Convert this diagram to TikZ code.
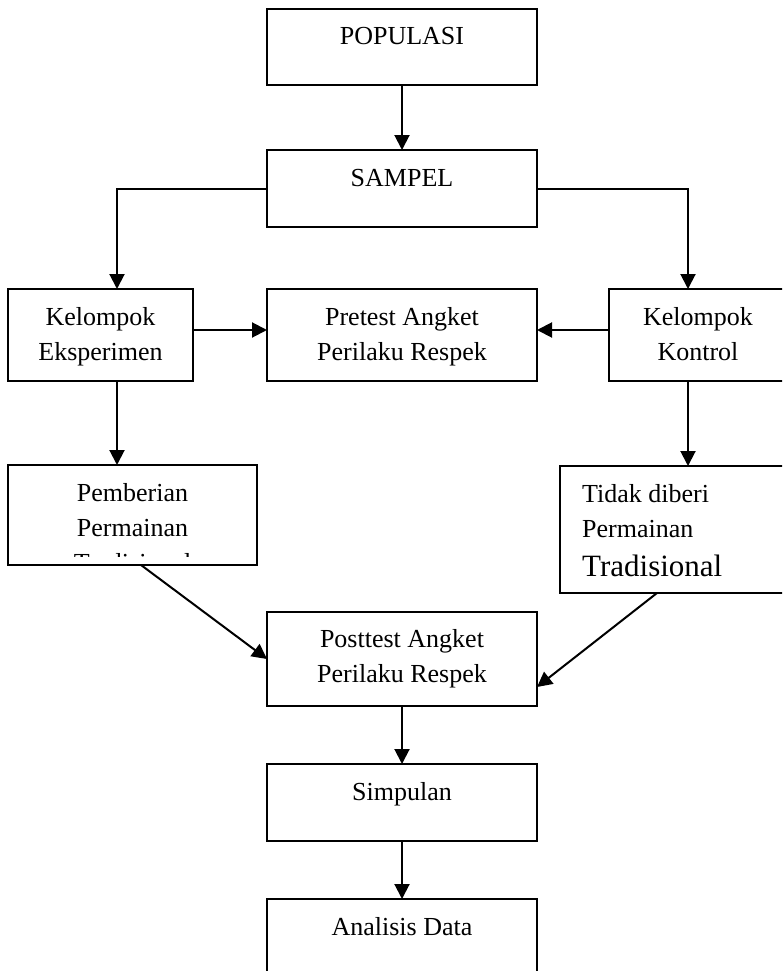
\documentclass[tikz,border=0pt]{standalone}
\usepackage{fontspec}
\setmainfont{Liberation Serif}
\usetikzlibrary{arrows.meta,calc}
\newcommand\mytf{\fontsize{26}{35}\selectfont}
\newcommand\fl{\rule{0pt}{20pt}}
\begin{document}
\begin{tikzpicture}[x=1pt,y=-1pt,
  box/.style={draw,line width=1.5pt,rectangle,anchor=north west,inner sep=0pt,outer sep=0pt},
  txt/.style={anchor=north,inner sep=0pt,align=center,font=\mytf},
  arr/.style={line width=2pt,-{Triangle[length=15pt,width=15pt]}}]
\useasboundingbox (0,0) rectangle (782,971);
\clip (0,0) rectangle (782,971);
% boxes
\node[box,minimum width=270pt,minimum height=76pt] (pop) at (267,9) {};
\node[box,minimum width=270pt,minimum height=77pt] (sam) at (267,150) {};
\node[box,minimum width=185pt,minimum height=92pt] (eks) at (8,289) {};
\node[box,minimum width=270pt,minimum height=92pt] (pre) at (267,289) {};
\node[box,minimum width=180pt,minimum height=92pt] (kon) at (609,289) {};
\node[box,minimum width=249pt,minimum height=100pt] (pem) at (8,465) {};
\node[box,minimum width=230pt,minimum height=127pt] (tid) at (560,466) {};
\node[box,minimum width=270pt,minimum height=94pt] (post) at (267,612) {};
\node[box,minimum width=270pt,minimum height=77pt] (sim) at (267,764) {};
\node[box,minimum width=270pt,minimum height=90pt] (ana) at (267,899) {};
% texts
\node[txt] (tpop) at (402,24) {\fl POPULASI};
\node[txt] (tsam) at (402,166) {\fl SAMPEL};
\node[txt] (teks) at (100.5,305) {\fl Kelompok\\Eksperimen};
\node[txt] (tpre) at (402,305) {\fl Pretest Angket\\Perilaku Respek};
\node[txt] (tkon) at (698,305) {\fl Kelompok\\Kontrol};
\begin{scope}
\clip (8,465) rectangle (257,556);
\node[txt] (tpem) at (132.5,481) {\fl Pemberian\\Permainan\\Tradisional};
\end{scope}
\node[txt,anchor=north west,align=left] (ttid) at (582,482) {\fl Tidak diberi\\Permainan\\[4pt]{\fontsize{31}{39}\selectfont Tradisional}};
\node[txt] (tpost) at (402,627) {\fl Posttest Angket\\Perilaku Respek};
\node[txt] (tsim) at (402,780) {\fl Simpulan};
\node[txt] (tana) at (402,915) {\fl Analisis Data};
% connectors
\draw[arr] (pop.south) -- (sam.north);
\draw[arr] (sam.west) -| ($(eks.north west)+(109,0)$);
\draw[arr] (sam.east) -| ($(kon.north west)+(79,0)$);
\draw[arr] ($(eks.east)+(0,-5)$) coordinate (e1) -- (e1 -| pre.west);
\draw[arr] ($(kon.west)+(0,-5)$) coordinate (k0) -- (k0 -| pre.east);
\draw[arr] ($(eks.south west)+(109,0)$) coordinate (e2) -- (e2 |- pem.north);
\draw[arr] ($(kon.south west)+(79,0)$) coordinate (k2) -- (k2 |- tid.north);
\draw[arr] ($(pem.south)+(8.5,0)$) -- (post.west);
\draw[arr] ($(tid.south west)+(97,0)$) -- ($(post.south east)+(0,-19)$);
\draw[arr] (post.south) -- (sim.north);
\draw[arr] (sim.south) -- (ana.north);
\end{tikzpicture}
\end{document}
